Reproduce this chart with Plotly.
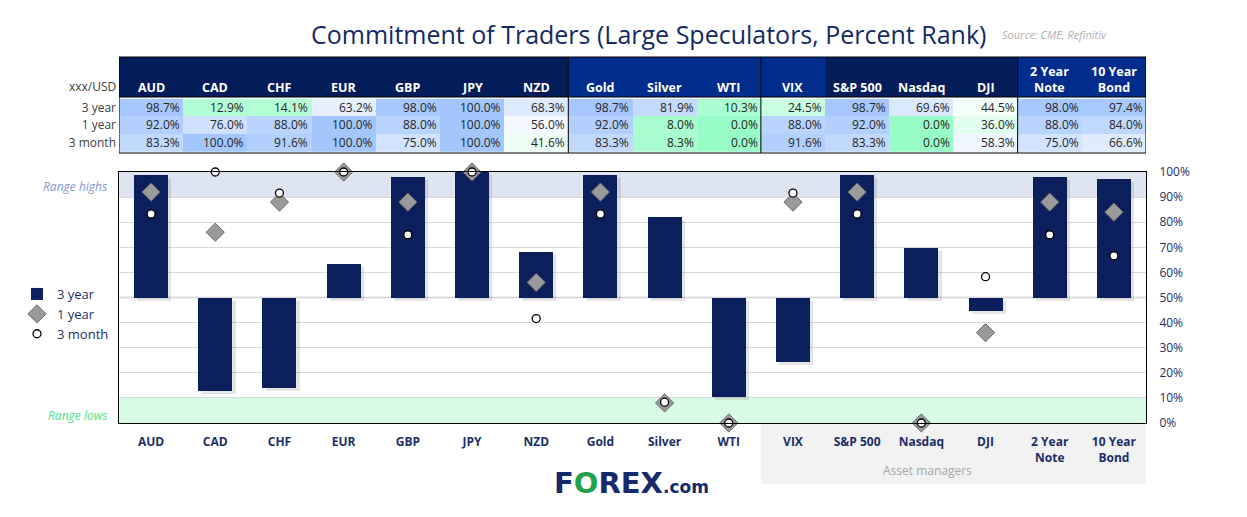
import plotly.graph_objects as go

W, H = 1247, 517

categories = ["AUD", "CAD", "CHF", "EUR", "GBP", "JPY", "NZD", "Gold", "Silver", "WTI",
              "VIX", "S&P 500", "Nasdaq", "DJI", "2 Year Note", "10 Year Bond"]
tick_labels = ["AUD", "CAD", "CHF", "EUR", "GBP", "JPY", "NZD", "Gold", "Silver", "WTI",
               "VIX", "S&P 500", "Nasdaq", "DJI", "2 Year<br>Note", "10 Year<br>Bond"]
three_year = [98.7, 12.9, 14.1, 63.2, 98.0, 100.0, 68.3, 98.7, 81.9, 10.3,
              24.5, 98.7, 69.6, 44.5, 98.0, 97.4]
one_year = [92.0, 76.0, 88.0, 100.0, 88.0, 100.0, 56.0, 92.0, 8.0, 0.0,
            88.0, 92.0, 0.0, 36.0, 88.0, 84.0]
three_month = [83.3, 100.0, 91.6, 100.0, 75.0, 100.0, 41.6, 83.3, 8.3, 0.0,
               91.6, 83.3, 0.0, 58.3, 75.0, 66.6]
row_labels = ["3 year", "1 year", "3 month"]
# header groups: (first index, last index, colour)
header_groups = [(0, 6, "#021d5a"), (7, 9, "#002c8c"), (10, 10, "#002c8c"),
                 (11, 13, "#021d5a"), (14, 15, "#002c8c")]
separators = [6.5, 9.5, 13.5]

NAVY = "#0a1f5c"
TXT = "#1b2f66"
FONT = "Open Sans"


def py(y):
    return 1 - y / H


def px(x):
    return x / W


xdom = [px(119), px(1146)]
BASE = 50
BAR_W = 0.53

fig = go.Figure()

# shadow of bars
fig.add_trace(go.Bar(
    x=categories, y=[v - BASE for v in three_year], base=BASE - 1.2,
    width=BAR_W, offset=-BAR_W / 2 + 0.05,
    marker=dict(color="rgba(0,0,0,0.10)", line=dict(width=0)),
    showlegend=False, hoverinfo="skip", xaxis="x", yaxis="y"))
fig.add_trace(go.Bar(
    x=categories, y=[v - BASE for v in three_year], base=BASE,
    width=BAR_W, offset=-BAR_W / 2,
    marker=dict(color=NAVY, line=dict(width=0)),
    name="3 year", xaxis="x", yaxis="y"))
fig.add_trace(go.Scatter(
    x=categories, y=one_year, mode="markers", name="1 year",
    marker=dict(symbol="diamond", size=14, color="#9a9a9a",
                line=dict(color="#6a6a6a", width=1)),
    cliponaxis=False, xaxis="x", yaxis="y"))
fig.add_trace(go.Scatter(
    x=categories, y=three_month, mode="markers", name="3 month",
    marker=dict(symbol="circle", size=8, color="white",
                line=dict(color="black", width=1.3)),
    cliponaxis=False, xaxis="x", yaxis="y"))

# table as heatmap
z = [three_year, one_year, three_month]
fig.add_trace(go.Heatmap(
    x=categories, y=row_labels, z=z, zmin=0, zmax=100,
    colorscale=[[0, "#98fcc6"], [0.5, "#ffffff"], [1, "#a3c6fd"]],
    showscale=False, xgap=0, ygap=0, hoverinfo="skip",
    xaxis="x2", yaxis="y2"))

annotations = []
for r, row in enumerate(z):
    for c, v in enumerate(row):
        annotations.append(dict(
            x=categories[c], y=row_labels[r], xref="x2", yref="y2",
            text=f"{v:.1f}%", showarrow=False, xanchor="right", xshift=31,
            font=dict(family=FONT, size=12, color="#262626")))

header_text = ["AUD", "CAD", "CHF", "EUR", "GBP", "JPY", "NZD", "Gold", "Silver", "WTI",
               "VIX", "S&P 500", "Nasdaq", "DJI", "2 Year<br>Note", "10 Year<br>Bond"]
for c, t in enumerate(header_text):
    annotations.append(dict(
        x=c, y=py(97.5), xref="x2", yref="paper", text=t, showarrow=False,
        xanchor="center", yanchor="bottom",
        font=dict(family=FONT, size=12.5, color="white", weight="bold")))
annotations.append(dict(x=px(118), y=py(87), xref="paper", yref="paper", text="xxx/USD",
                        showarrow=False, xanchor="right", yanchor="middle",
                        font=dict(family=FONT, size=12, color="#404040")))

shapes = []
for a, b, col in header_groups:
    shapes.append(dict(type="rect", xref="x2", yref="paper", x0=a - 0.5, x1=b + 0.5,
                       y0=py(97), y1=py(57), fillcolor=col, line=dict(width=0)))
for s in separators:
    shapes.append(dict(type="line", xref="x2", yref="paper", x0=s, x1=s,
                       y0=py(153), y1=py(57), line=dict(color="black", width=1)))
shapes.append(dict(type="rect", xref="x2", yref="paper", x0=-0.5, x1=15.5,
                   y0=py(153), y1=py(57), line=dict(color="black", width=1)))
shapes.append(dict(type="line", xref="x2", yref="paper", x0=-0.5, x1=15.5,
                   y0=py(97), y1=py(97), line=dict(color="black", width=1)))

# range bands
shapes.append(dict(type="rect", xref="x domain", yref="y", x0=0, x1=1, y0=90, y1=100,
                   fillcolor="#dee4f0", line=dict(width=0), layer="below"))
shapes.append(dict(type="rect", xref="x domain", yref="y", x0=0, x1=1, y0=0, y1=10,
                   fillcolor="#d9fce6", line=dict(width=0), layer="below"))
shapes.append(dict(type="line", xref="x domain", yref="y", x0=0, x1=1, y0=BASE, y1=BASE,
                   line=dict(color="#bfbfbf", width=1.5), layer="below"))
# asset managers box
shapes.append(dict(type="rect", xref="x", yref="paper", x0=9.5, x1=15.5,
                   y0=py(484), y1=py(423), fillcolor="#f2f2f2", line=dict(width=0),
                   layer="below"))

annotations += [
    dict(x=px(648), y=py(34), xref="paper", yref="paper",
         text="Commitment of Traders (Large Speculators, Percent Rank)",
         showarrow=False, xanchor="center", yanchor="middle",
         font=dict(family=FONT, size=25, color="#132a63")),
    dict(x=px(1000), y=py(34), xref="paper", yref="paper", text="Source: CME, Refinitiv",
         showarrow=False, xanchor="left", yanchor="middle",
         font=dict(family=FONT, size=11, color="#b0b0b0", style="italic")),
    dict(x=px(109), y=py(187), xref="paper", yref="paper", text="Range highs",
         showarrow=False, xanchor="right", yanchor="middle",
         font=dict(family=FONT, size=12, color="#7f9ad4", style="italic")),
    dict(x=px(109), y=py(415), xref="paper", yref="paper", text="Range lows",
         showarrow=False, xanchor="right", yanchor="middle",
         font=dict(family=FONT, size=12, color="#4cdf88", style="italic")),
    dict(x=12.1, y=py(470), xref="x", yref="paper", text="Asset managers",
         showarrow=False, xanchor="center", yanchor="middle",
         font=dict(family=FONT, size=12, color="#a6a6a6")),
    dict(x=px(631), y=py(483), xref="paper", yref="paper",
         text="F<span style='color:#22a24c'>O</span>REX<span style='font-size:17px'>.com</span>",
         showarrow=False, xanchor="center", yanchor="middle",
         font=dict(family="DejaVu Sans", size=29, color="#142a6b", weight="bold")),
]

fig.update_layout(
    width=W, height=H, autosize=False,
    margin=dict(l=0, r=0, t=0, b=0, autoexpand=False),
    paper_bgcolor="white", plot_bgcolor="rgba(0,0,0,0)",
    barmode="overlay", bargap=0,
    font=dict(family=FONT, color=TXT),
    showlegend=True,
    legend=dict(x=px(17), y=py(279), xanchor="left", yanchor="top",
                font=dict(family=FONT, size=13, color=TXT),
                bgcolor="rgba(0,0,0,0)", traceorder="normal", itemwidth=30),
    xaxis=dict(domain=xdom, type="category", range=[-0.5, 15.5],
               tickmode="array", tickvals=categories, ticktext=tick_labels,
               tickfont=dict(family=FONT, size=12, color=TXT, weight="bold"),
               showline=True, linecolor="black", linewidth=1, mirror=True,
               showgrid=False, ticks="", ticklabelstandoff=8, anchor="y",
               automargin=False),
    yaxis=dict(domain=[py(423), py(172)], range=[0, 100], side="right",
               tickmode="linear", tick0=0, dtick=10, ticksuffix="%",
               tickfont=dict(family=FONT, size=12, color=TXT),
               showline=True, linecolor="black", linewidth=1, mirror=True,
               showgrid=True, gridcolor="#d9d9d9", gridwidth=1, zeroline=False,
               ticks="", ticklabelstandoff=10, anchor="x", automargin=False),
    xaxis2=dict(domain=xdom, type="category", range=[-0.5, 15.5],
                showticklabels=False, showgrid=False, zeroline=False, anchor="y2",
                categoryorder="array", categoryarray=categories, automargin=False),
    yaxis2=dict(domain=[py(153), py(97)], type="category", autorange="reversed",
                tickfont=dict(family=FONT, size=12, color="#404040"),
                showgrid=False, zeroline=False, ticks="", ticklabelstandoff=2,
                anchor="x2", automargin=False),
    shapes=shapes,
    annotations=annotations,
)

fig.write_html("out.html", config={"displayModeBar": False},
               post_script="document.body.style.margin='0';document.body.style.overflow='hidden';")
